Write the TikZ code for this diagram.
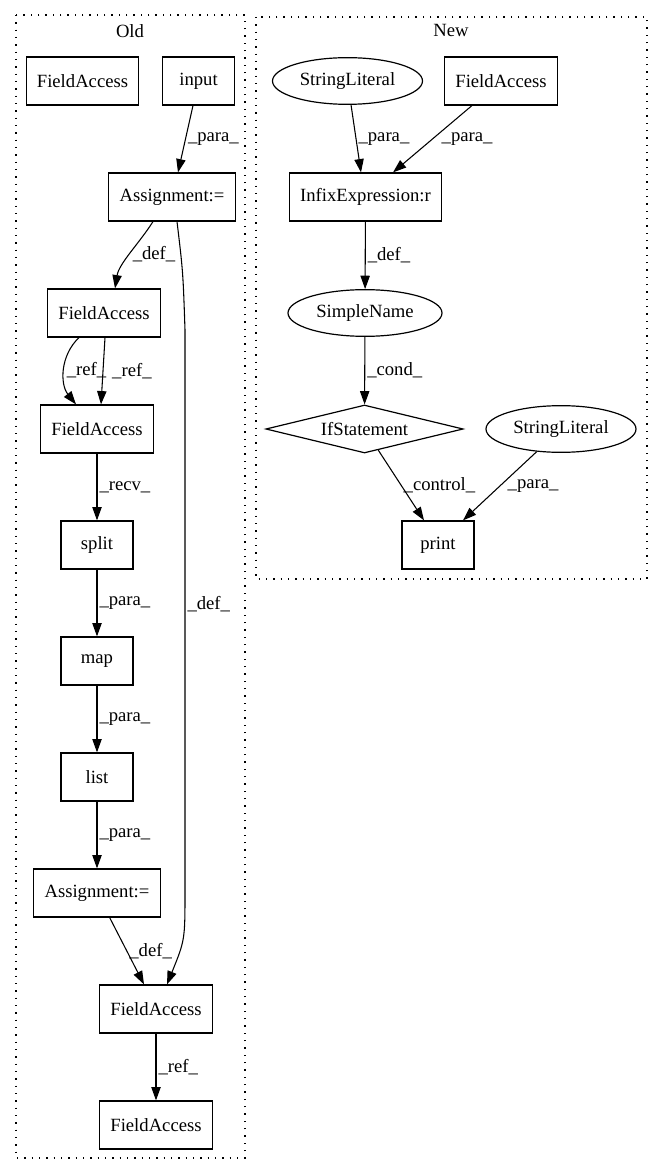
\documentclass[tikz,border=0pt]{standalone}
\usepackage{fontspec}
\setmainfont{Liberation Serif}
\usetikzlibrary{calc,
	positioning,
	shapes.geometric,
	arrows.meta}
\tikzstyle{blk}=[draw, rectangle, line width=0.9pt, minimum height=36pt,
		minimum width=54pt, inner xsep=8pt, inner ysep=0pt]
\tikzstyle{oval}=[draw, ellipse, line width=0.9pt, minimum height=35pt, inner sep=0pt]
\tikzstyle{cond}=[draw, diamond, aspect=4, line width=0.9pt, minimum width=148pt,
		minimum height=36pt, inner sep=0pt]
\tikzstyle{link}=[draw, line width=0.8pt, -{Triangle[length=10pt, width=7pt]}]
\tikzstyle{lbl}=[right, inner sep=1.5pt]
\tikzstyle{grp}=[draw, line width=1pt, dash pattern=on 1pt off 4.5pt]

\begin{document}
\begin{tikzpicture}[x=0.75pt, y=-0.75pt, font=\fontsize{14}{16}\selectfont]
            \useasboundingbox (0,0) rectangle (663,1176);
            \draw[grp] (16,15) rectangle (245,1158);
            \draw[grp] (256,17) rectangle (647,579);
            \node (old) at (130,31) {Old};
            \node (new) at (451,30) {New};

            \node[blk] (faA) at (82.5,81) {FieldAccess};
            \node[blk] (input) at (198.5,81) {input};
            \node[blk] (asgA) at (172,197) {Assignment:=};
            \node[blk] (faB) at (104,313) {FieldAccess};
            \node[blk] (faC) at (97,429) {FieldAccess};
            \node[blk] (split) at (97,545) {split};
            \node[blk] (map) at (97,661) {map};
            \node[blk] (list) at (97,777) {list};
            \node[blk] (asgB) at (97,893) {Assignment:=};
            \node[blk] (faD) at (156,1009) {FieldAccess};
            \node[blk] (faE) at (156,1125) {FieldAccess};
            \coordinate (bendA) at (185,330);
            \coordinate (bendB) at (185,890);

            \node[oval, minimum width=112.5pt] (strA) at (347.5,81) {StringLiteral};
            \node[blk] (faN) at (501,81) {FieldAccess};
            \node[blk] (infix) at (365.5,197) {InfixExpression:r};
            \node[oval, minimum width=115.5pt] (name) at (365,313) {SimpleName};
            \node[cond] (ifst) at (364.5,429) {IfStatement};
            \node[oval, minimum width=112.5pt] (strB) at (561,429) {StringLiteral};
            \node[blk] (print) at (438,545) {print};

            \draw[link] (input) -- ($(asgA.north)+(6,0)$) node[lbl, midway] {\_para\_};
            \draw[link] ($(asgA.south)+(-19,0)$) .. controls +(-14,22) and +(4,-25) .. ($(faB.north)+(11,0)$) node[lbl, midway] {\_def\_};
            \draw[link] ($(asgA.south)+(5,0)$) .. controls +(6,50) .. (bendA) -- node[lbl, pos=0.49] {\_def\_} (bendB) .. controls +(0,50) .. ($(faD.north)+(11,0)$);
            \draw[link] ($(faB.south)+(-25,0)$) .. controls +(-19,18) and +(-16,-20) .. ($(faC.north)+(-21,0)$) node[lbl, midway] {\_ref\_};
            \draw[link] ($(faB.south)+(1,0)$) -- ($(faC.north)+(4,0)$) node[lbl, midway, xshift=5pt] {\_ref\_};
            \draw[link] (faC) -- (split) node[lbl, midway] {\_recv\_};
            \draw[link] (split) -- (map) node[lbl, midway] {\_para\_};
            \draw[link] (map) -- (list) node[lbl, midway] {\_para\_};
            \draw[link] (list) -- (asgB) node[lbl, midway] {\_para\_};
            \draw[link] (asgB) -- ($(faD.north)+(-12,0)$) node[lbl, midway] {\_def\_};
            \draw[link] (faD) -- (faE) node[lbl, midway] {\_ref\_};

            \draw[link] (strA) -- ($(infix.north)+(-4.5,0)$) node[lbl, midway] {\_para\_};
            \draw[link] (faN) -- ($(infix.north)+(27.5,0)$) node[lbl, midway, xshift=5pt] {\_para\_};
            \draw[link] (infix) -- (name) node[lbl, midway] {\_def\_};
            \draw[link] (name) -- (ifst) node[lbl, midway] {\_cond\_};
            \draw[link] (ifst) -- ($(print.north)+(-14,0)$) node[lbl, midway] {\_control\_};
            \draw[link] (strB) -- ($(print.north)+(25,0)$) node[lbl, midway, xshift=4pt] {\_para\_};
\end{tikzpicture}
\end{document}
